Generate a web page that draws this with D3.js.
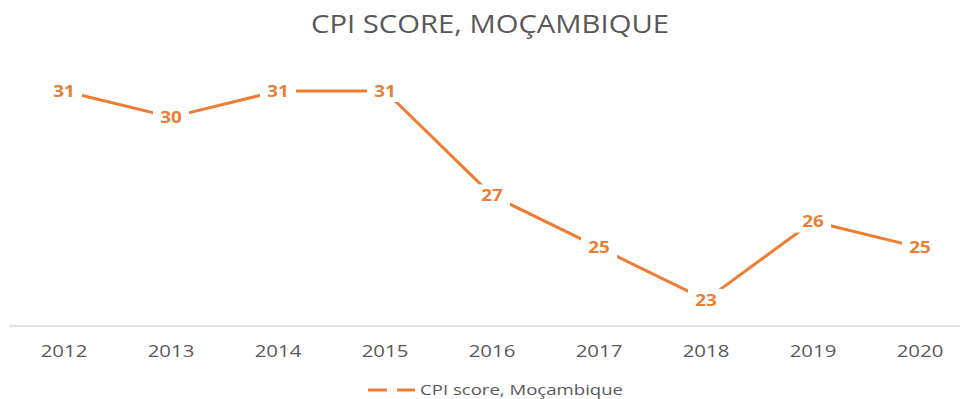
<!DOCTYPE html>
<html>
<head>
<meta charset="utf-8">
<script src="https://cdn.jsdelivr.net/npm/d3@7"></script>
<style>
  html, body { margin: 0; padding: 0; background: #fff; }
  svg { display: block; }
</style>
</head>
<body>
<svg id="chart" width="960" height="399"></svg>
<script>
// Corruption Perceptions Index score for Mozambique, by year
const years = ["2012", "2013", "2014", "2015", "2016", "2017", "2018", "2019", "2020"];
const scores = [31, 30, 31, 31, 27, 25, 23, 26, 25];
const seriesName = "CPI score, Moçambique";
const titleText = "CPI SCORE, MOÇAMBIQUE";

const orange = "#ED7D31";
const gray = "#595959";
const font = "'Open Sans', 'Noto Sans', sans-serif";

const svg = d3.select("#chart");

const x = d3.scaleBand().domain(years).range([10.5, 973.5]);
const y = d3.scaleLinear().domain([22, 31]).range([326, 91]);

// Title (set slightly wide)
svg.append("text")
  .attr("transform", "translate(490,33) scale(1.17,1)")
  .attr("text-anchor", "middle")
  .attr("font-family", font).attr("font-size", 25)
  .attr("fill", gray)
  .text(titleText);

// Category axis
const axis = svg.append("g").attr("transform", "translate(0,326)")
  .call(d3.axisBottom(x).tickSize(0).tickPadding(19));
axis.select(".domain").attr("stroke", "#d9d9d9").attr("stroke-width", 1.5)
  .attr("d", "M9,0H960");
axis.selectAll(".tick text")
  .attr("transform", "scale(1.2,1)")
  .attr("font-family", font).attr("font-size", 17).attr("fill", gray);

// Series line
const cx = d => x(d.year) + x.bandwidth() / 2;
const pts = years.map((year, i) => ({ year, value: scores[i] }));
svg.append("path")
  .datum(pts)
  .attr("fill", "none")
  .attr("stroke", orange).attr("stroke-width", 3)
  .attr("stroke-linejoin", "round")
  .attr("d", d3.line().x(cx).y(d => y(d.value)));

// Data labels sitting on the points, with a white backing
const lab = svg.append("g").selectAll("g").data(pts).join("g")
  .attr("transform", d => `translate(${cx(d)},${y(d.value)})`);
lab.append("rect")
  .attr("x", -18).attr("y", -11).attr("width", 36).attr("height", 22)
  .attr("fill", "#fff");
lab.append("text")
  .attr("transform", "scale(1.18,1)")
  .attr("text-anchor", "middle").attr("dy", "0.36em")
  .attr("font-family", font).attr("font-size", 16).attr("font-weight", "bold")
  .attr("fill", orange)
  .text(d => d.value);

// Legend
const lg = svg.append("g").attr("transform", "translate(368,390)");
lg.append("line")
  .attr("x1", 0).attr("x2", 47).attr("y1", 0).attr("y2", 0)
  .attr("stroke", orange).attr("stroke-width", 3)
  .attr("stroke-dasharray", "19,10");
lg.append("text")
  .attr("transform", "translate(52,0) scale(1.24,1)")
  .attr("dy", "0.35em")
  .attr("font-family", font).attr("font-size", 15).attr("fill", gray)
  .text(seriesName);
</script>
</body>
</html>
